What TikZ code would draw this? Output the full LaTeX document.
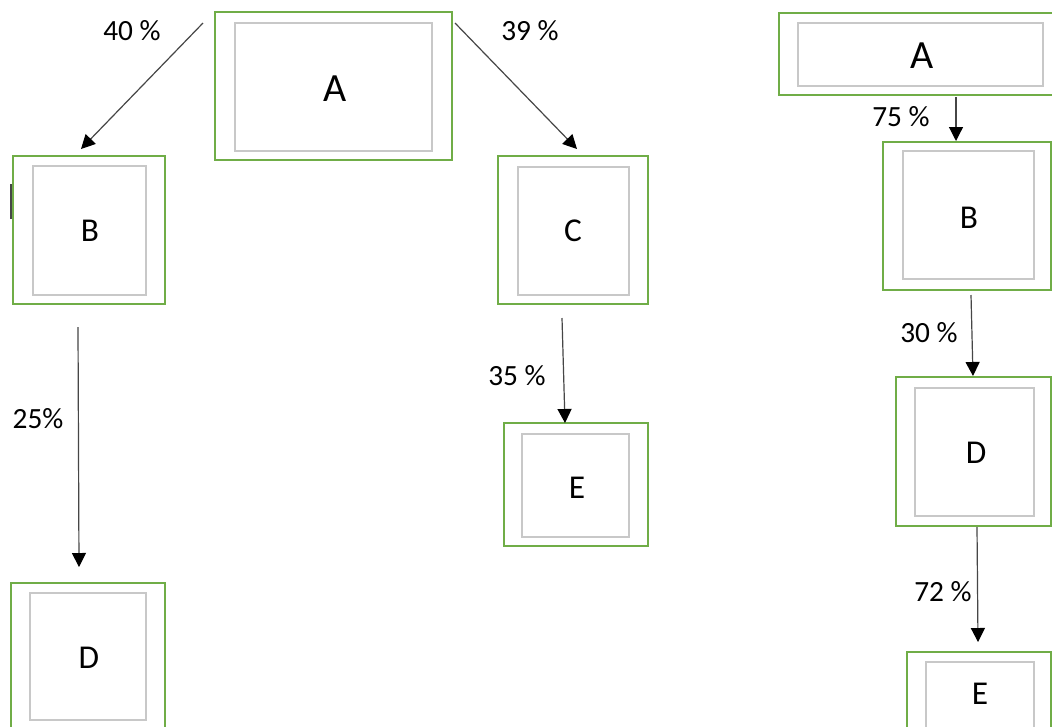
\documentclass[tikz,border=0pt]{standalone}
\usepackage{fontspec}
\setmainfont{Carlito}
\usetikzlibrary{fit,arrows.meta}
\definecolor{boxgreen}{RGB}{112,173,71}
\definecolor{boxgray}{RGB}{200,200,200}
\definecolor{linegray}{RGB}{70,70,70}
\tikzset{
  gbox/.style={draw=boxgreen, line width=1.9pt, inner sep=0pt, rectangle},
  ibox/.style={draw=boxgray, line width=1.1pt, inner sep=0pt, rectangle},
  biglbl/.style={font=\fontsize{30}{30}\selectfont, inner sep=0pt},
  lbl/.style={font=\fontsize{25}{25}\selectfont, inner sep=0pt},
  pct/.style={font=\fontsize{22}{22}\selectfont, inner sep=0pt},
  conn/.style={draw=linegray, line width=0.9pt, -{Triangle[length=10.5pt,width=10.5pt,fill=black,color=black]}},
}
\begin{document}
\begin{tikzpicture}[x=0.75pt,y=-0.75pt]
\useasboundingbox (0,0) rectangle (1052,726);
\fill[white] (0,0) rectangle (1052,726);
\clip (0,0) rectangle (1052,726);

% ---------- left tree ----------
\node[gbox, fit={(215,12) (452,160)}] (LA) {};
\node[ibox, fit={(235,23) (432,151)}] (LAi) {};
\node[biglbl] (LAt) at (335,89) {A};

\node[gbox, fit={(13,156) (165,304)}] (LB) {};
\node[ibox, fit={(33,166) (146,295)}] (LBi) {};
\node[lbl] (LBt) at (90,231) {B};

\node[gbox, fit={(498,156) (648,304)}] (LC) {};
\node[ibox, fit={(518,167) (629,295)}] (LCi) {};
\node[lbl] (LCt) at (573,231) {C};

\node[gbox, fit={(504,423) (648,546)}] (LE) {};
\node[ibox, fit={(522,434) (629,537)}] (LEi) {};
\node[lbl] (LEt) at (577,488) {E};

\node[gbox, fit={(11,583) (165,740)}] (LD) {};
\node[ibox, fit={(30,593) (146,720)}] (LDi) {};
\node[lbl] (LDt) at (89,658) {D};

\draw[draw=linegray, line width=1.6pt] (11,184) -- (11,219);

\coordinate (ab1) at (203,23);  \coordinate (ab2) at (81,149);
\coordinate (ac1) at (455,23);  \coordinate (ac2) at (577,149);
\coordinate (bd1) at (78,327);  \coordinate (bd2) at (79,567);
\coordinate (ce1) at (562,318); \coordinate (ce2) at (565,423);
\draw[conn] (ab1) -- (ab2);
\draw[conn] (ac1) -- (ac2);
\draw[conn] (bd1) -- (bd2);
\draw[conn] (ce1) -- (ce2);

\node[pct] (p40) at (132,31) {40 \%};
\node[pct] (p39) at (530,31) {39 \%};
\node[pct] (p25) at (38,419) {25\%};
\node[pct] (p35) at (517,376) {35 \%};

% ---------- right chain ----------
\node[gbox, fit={(779,13) (1070,95)}] (RA) {};
\node[ibox, fit={(798,23) (1043,86)}] (RAi) {};
\node[biglbl] (RAt) at (922,56) {A};

\node[gbox, fit={(883,142) (1051,290)}] (RB) {};
\node[ibox, fit={(903,151) (1034,279)}] (RBi) {};
\node[lbl] (RBt) at (969,218) {B};

\node[gbox, fit={(896,377) (1051,526)}] (RD) {};
\node[ibox, fit={(915,388) (1034,516)}] (RDi) {};
\node[lbl] (RDt) at (976,453) {D};

\node[gbox, fit={(907,652) (1051,760)}] (RE) {};
\node[ibox, fit={(926,662) (1034,740)}] (REi) {};
\node[lbl] (REt) at (980,694) {E};

\coordinate (rab1) at (956,97);  \coordinate (rab2) at (956,141);
\coordinate (rbd1) at (971,295); \coordinate (rbd2) at (973,376);
\coordinate (rde1) at (977,527); \coordinate (rde2) at (978,642);
\draw[conn] (rab1) -- (rab2);
\draw[conn] (rbd1) -- (rbd2);
\draw[conn] (rde1) -- (rde2);

\node[pct] (p75) at (901,117) {75 \%};
\node[pct] (p30) at (929,333) {30 \%};
\node[pct] (p72) at (943,592) {72 \%};
\end{tikzpicture}
\end{document}
